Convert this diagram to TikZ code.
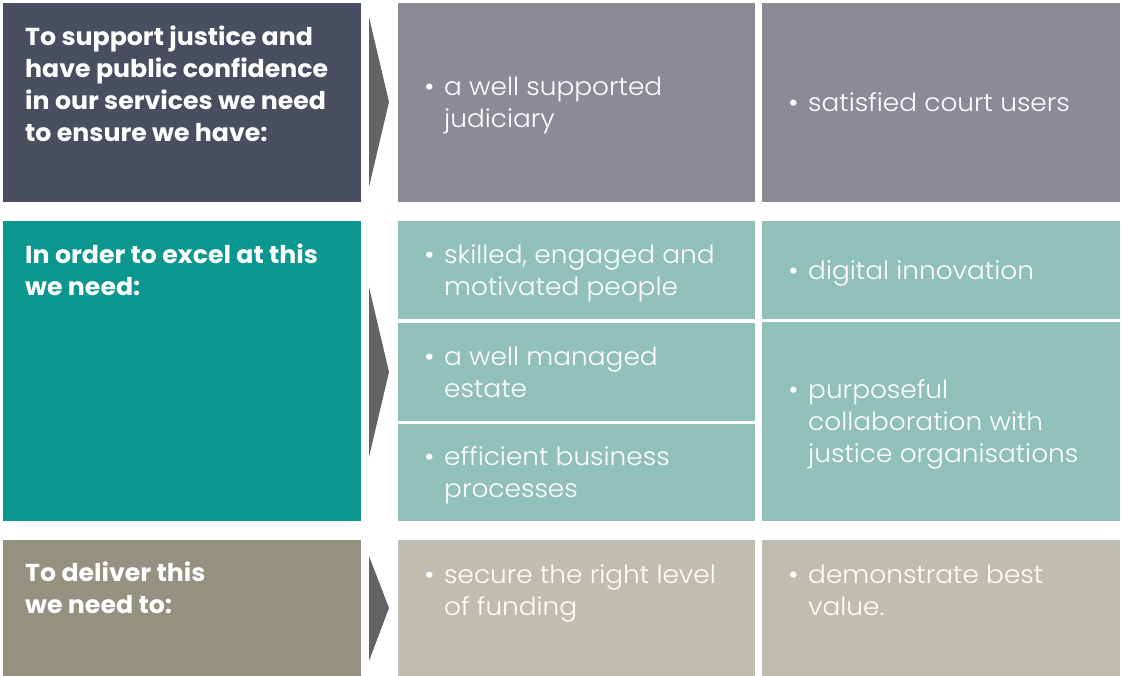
\documentclass[tikz,border=0pt]{standalone}
\usepackage{fontspec}
\setmainfont[FakeStretch=1.03]{Poppins}
\newfontfamily\itemfont[FakeStretch=1.055]{Poppins Light}
\usepackage{tikz}

\definecolor{slate}{HTML}{4A4E61}
\definecolor{slatecell}{HTML}{8D8A95}
\definecolor{teal}{HTML}{0B968F}
\definecolor{tealcell}{HTML}{91C0B9}
\definecolor{olive}{HTML}{939180}
\definecolor{olivecell}{HTML}{BFBCB0}
\definecolor{arrowgrey}{HTML}{636466}

% bullet with hanging lines
\newcommand{\bitem}[1]{\begin{tabular}{@{}p{20pt}@{}l@{}}{\normalfont\textbullet} & \begin{tabular}[t]{@{}l@{}}#1\end{tabular}\end{tabular}}

\tikzset{
	box/.style={anchor=north west, inner sep=0pt, outer sep=0pt},
	lead/.style={anchor=north west, inner sep=0pt, align=left, text=white,
		font=\fontsize{24.5}{32}\selectfont\bfseries},
	item/.style={anchor=west, inner sep=0pt, align=left, text=white,
		font=\fontsize{25}{32}\itemfont},
}

\begin{document}
\begin{tikzpicture}[x=1pt, y=-1pt]
	\useasboundingbox (0,0) rectangle (1121,676);

	% row 1
	\node[box, fill=slate, minimum width=358, minimum height=199] (lead1) at (3,3) {};
	\node[box, fill=slatecell, minimum width=357, minimum height=199] (c11) at (398,3) {};
	\node[box, fill=slatecell, minimum width=358, minimum height=199] (c12) at (762,3) {};
	\node[lead] (lead1txt) at ([shift={(22,23)}]lead1.north west)
		{To support justice and\\have public confidence\\in our services we need\\to ensure we have:};
	\node[item] (t11) at ([shift={(26,3)}]c11.west) {\bitem{a well supported\\judiciary}};
	\node[item] (t12) at ([shift={(26,3)}]c12.west) {\bitem{satisfied court users}};
	\fill[arrowgrey] (369,17) -- (389,102) -- (369,187) -- cycle;

	% row 2
	\node[box, fill=teal, minimum width=358, minimum height=300] (lead2) at (3,221) {};
	\node[box, fill=tealcell, minimum width=357, minimum height=98] (c21) at (398,221) {};
	\node[box, fill=tealcell, minimum width=357, minimum height=98] (c22) at (398,323) {};
	\node[box, fill=tealcell, minimum width=357, minimum height=97] (c23) at (398,424) {};
	\node[box, fill=tealcell, minimum width=358, minimum height=98] (c24) at (762,221) {};
	\node[box, fill=tealcell, minimum width=358, minimum height=199] (c25) at (762,322) {};
	\node[lead] (lead2txt) at ([shift={(22,23)}]lead2.north west)
		{In order to excel at this\\we need:};
	\node[item] (t21) at ([shift={(26,3)}]c21.west) {\bitem{skilled, engaged and\\motivated people}};
	\node[item] (t22) at ([shift={(26,3)}]c22.west) {\bitem{a well managed\\estate}};
	\node[item] (t23) at ([shift={(26,3)}]c23.west) {\bitem{efficient business\\processes}};
	\node[item] (t24) at ([shift={(26,3)}]c24.west) {\bitem{digital innovation}};
	\node[item] (t25) at ([shift={(26,3)}]c25.west) {\bitem{purposeful\\collaboration with\\justice organisations}};
	\fill[arrowgrey] (369,287) -- (389,372) -- (369,457) -- cycle;

	% row 3
	\node[box, fill=olive, minimum width=358, minimum height=136] (lead3) at (3,540) {};
	\node[box, fill=olivecell, minimum width=357, minimum height=136] (c31) at (398,540) {};
	\node[box, fill=olivecell, minimum width=358, minimum height=136] (c32) at (762,540) {};
	\node[lead] (lead3txt) at ([shift={(22,22)}]lead3.north west)
		{To deliver this\\we need to:};
	\node[item, anchor=north west] (t31) at ([shift={(26,21)}]c31.north west) {\bitem{secure the right level\\of funding}};
	\node[item, anchor=north west] (t32) at ([shift={(26,21)}]c32.north west) {\bitem{demonstrate best\\value.}};
	\fill[arrowgrey] (369,556) -- (389,608) -- (369,661) -- cycle;
\end{tikzpicture}
\end{document}
